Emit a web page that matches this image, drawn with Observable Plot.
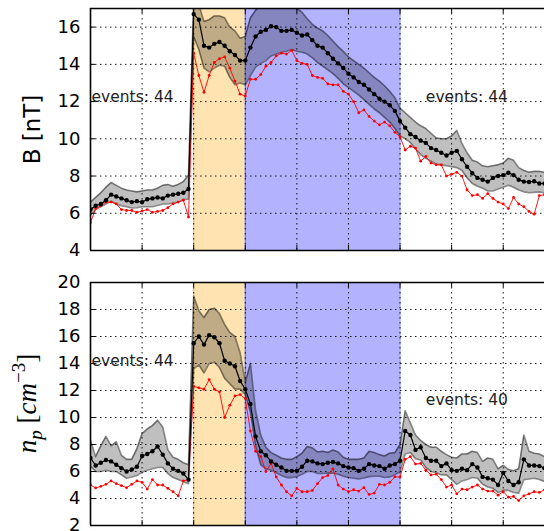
<!DOCTYPE html>
<html><head><meta charset="utf-8">
<script src="https://cdn.jsdelivr.net/npm/d3@7"></script>
<script src="https://cdn.jsdelivr.net/npm/@observablehq/plot@0.6"></script>
<style>
html,body{margin:0;padding:0;background:#fff;}
#chart{width:544px;height:531px;overflow:hidden;background:#fff;}
#chart svg{display:block;}
</style></head><body><div id="chart"></div>
<script>
// sample times (normalized epoch units), 0.1 step
const time = d3.range(89).map(i => i / 10);

// ---- magnetic field B [nT] ----
const B_mean = [6.2,6.4,6.5,6.7,7.0,6.9,6.8,6.7,6.6,6.65,6.6,6.75,6.8,6.85,6.8,6.95,7.0,7.05,7.1,7.3,
  16.7,16.4,15.0,14.9,15.1,15.2,15.0,14.7,14.5,14.2,
  14.2,14.9,15.5,15.75,15.85,16.05,16.0,15.8,15.8,15.85,15.7,15.55,15.6,15.3,15.0,14.9,14.6,14.3,14.05,13.8,13.5,13.3,13.05,12.9,12.65,12.4,12.15,12.0,11.8,11.5,
  10.95,10.6,10.25,10.1,9.9,9.78,9.5,9.4,9.25,9.1,9.25,9.35,8.9,8.5,8.15,7.9,7.8,7.7,7.9,8.0,8.05,8.18,8.05,7.8,7.7,7.68,7.72,7.6,7.6];
const B_hi = [6.6,6.85,7.1,7.4,7.65,7.5,7.35,7.25,7.2,7.15,7.2,7.25,7.25,7.35,7.5,7.55,7.45,7.55,7.7,8.05,
  17.5,17.2,16.3,16.4,16.6,16.6,16.5,16.0,15.8,15.4,
  15.5,16.5,16.9,17.2,17.4,17.5,17.5,17.4,17.2,17.05,17.0,16.8,16.45,16.15,15.95,15.8,15.55,15.25,14.95,14.7,14.4,14.2,14.0,13.8,13.55,13.3,13.1,12.85,12.55,12.2,
  11.65,11.4,11.15,10.9,10.7,10.55,10.3,10.05,10.0,10.0,10.15,10.45,9.75,9.25,8.85,8.75,8.55,8.5,8.55,8.6,8.7,8.95,8.85,8.45,8.3,8.2,8.25,8.25,8.2];
const B_lo = [5.9,6.2,6.35,6.5,6.65,6.5,6.4,6.35,6.28,6.3,6.35,6.35,6.35,6.42,6.5,6.5,6.55,6.6,6.75,6.75,
  15.5,14.8,13.8,13.6,13.8,13.95,13.9,13.3,12.9,13.0,
  12.9,13.4,13.85,14.05,14.2,14.45,14.55,14.65,14.7,14.8,14.7,14.65,14.55,14.35,14.1,13.9,13.7,13.5,13.25,12.95,12.75,12.55,12.35,12.1,11.85,11.6,11.4,11.15,10.9,10.55,
  10.15,10.0,9.8,9.45,9.15,8.95,8.8,8.65,8.6,8.55,8.5,8.45,8.3,7.9,7.6,7.45,7.35,7.2,7.2,7.3,7.4,7.5,7.4,7.25,7.15,7.1,7.12,7.15,7.1];
const B_median = [5.5,6.25,6.4,6.6,6.6,6.5,6.2,6.15,6.15,6.05,6.12,6.2,6.05,6.1,6.15,6.3,6.5,6.6,6.7,5.8,
  14.6,13.4,12.5,13.4,14.1,14.3,14.4,13.8,13.1,12.4,
  12.3,13.2,13.2,13.45,13.9,14.1,14.45,14.6,14.55,14.75,14.2,14.05,14.0,13.4,13.3,13.25,12.95,12.9,12.9,12.55,12.4,12.0,11.4,11.55,11.2,10.95,10.75,10.9,10.7,10.35,
  10.1,9.4,9.6,9.5,8.8,9.05,8.7,8.6,8.6,8.0,8.1,8.2,8.0,7.25,6.95,7.0,6.8,7.05,6.8,6.6,6.5,6.25,6.85,6.5,6.35,6.1,5.95,6.95,7.0];

// ---- proton density n_p [cm^-3] ----
const N_mean = [7.0,6.45,6.65,6.85,6.75,6.5,6.25,6.0,6.15,6.35,7.15,7.3,7.5,7.85,7.25,6.6,6.2,6.05,5.85,5.4,
  15.5,16.0,15.4,16.1,15.95,15.5,14.2,14.0,13.8,12.7,
  12.1,11.0,8.6,7.5,7.2,6.75,6.5,6.3,6.05,6.05,6.05,6.35,6.8,6.75,6.6,6.55,6.65,6.7,6.6,6.4,6.3,6.25,6.05,6.2,6.55,6.45,6.4,6.2,6.45,6.55,
  6.8,9.0,8.7,7.6,7.8,7.0,6.8,6.8,6.4,6.6,6.1,6.05,6.2,6.1,6.55,6.3,5.6,5.5,5.4,5.0,5.9,5.3,5.0,5.2,6.9,6.45,6.45,6.4,6.25];
const N_hi = [8.3,7.1,7.9,8.6,7.9,8.2,7.2,6.9,6.9,7.7,8.8,9.15,9.4,9.8,9.3,7.6,7.05,6.9,6.65,6.5,
  19.0,17.9,17.4,18.0,18.1,17.7,16.9,16.3,16.0,14.8,
  12.6,14.0,10.5,8.7,7.8,7.4,7.2,7.0,6.9,6.9,7.1,7.35,7.85,7.75,7.45,7.5,7.4,7.6,7.45,7.05,6.9,6.9,6.9,7.0,7.5,7.4,7.25,7.15,7.35,7.4,
  8.0,10.5,9.6,8.7,8.3,8.0,7.8,7.8,7.5,7.25,7.05,7.0,7.3,7.3,7.5,7.4,6.75,7.0,6.9,6.2,6.45,6.15,6.05,6.2,8.7,7.5,7.35,7.3,7.1];
const N_lo = [6.4,6.0,6.0,6.1,6.0,6.0,5.75,5.5,5.6,5.7,5.95,6.1,6.2,6.3,6.3,5.85,5.55,5.4,5.25,5.1,
  13.6,13.9,13.3,14.0,14.1,13.7,12.9,12.5,12.1,12.1,
  11.7,10.4,7.9,6.5,6.2,6.1,5.9,5.7,5.55,5.55,5.62,5.8,6.0,6.0,5.85,5.85,5.9,5.88,5.8,5.65,5.55,5.5,5.45,5.52,5.62,5.65,5.65,5.55,5.6,5.75,
  6.0,7.3,7.4,6.95,6.85,6.3,6.0,5.9,5.75,5.75,5.4,5.05,5.3,5.4,5.55,5.5,5.05,4.85,4.75,4.45,4.6,4.6,4.45,4.4,5.4,5.45,5.5,5.4,5.25];
const N_median = [5.0,4.78,4.9,5.05,5.3,5.1,4.95,4.8,5.05,5.3,5.2,4.7,5.4,5.0,5.0,4.75,4.5,4.2,5.3,5.4,
  12.3,12.2,12.1,12.8,12.1,11.9,10.0,10.9,11.6,11.7,
  11.4,9.0,7.5,7.1,6.0,6.6,5.6,5.0,4.5,4.2,4.75,4.5,4.5,4.6,5.1,5.55,5.7,6.2,5.0,4.7,4.5,4.65,4.55,4.8,4.3,4.4,5.05,5.0,5.2,5.6,
  5.6,6.9,7.1,6.55,6.6,6.1,5.75,5.8,5.4,4.85,5.0,4.35,4.7,4.65,4.85,5.0,4.7,4.55,4.55,4.25,4.5,4.1,4.15,3.85,4.2,4.35,4.5,4.45,4.65];

// ---- axes, phases, labels ----
const xTicks = [0,1,2,3,4,5,6,7,8];
const B_ticks = [4,6,8,10,12,14,16];
const N_ticks = [2,4,6,8,10,12,14,16,18,20];
const phaseStart = [2, 3];
const phaseEnd = [3, 6];
const phaseColor = ["orange", "blue"];
const B_events = ["events: 44", "events: 44"];
const N_events = ["events: 44", "events: 40"];
const B_eventT = [0.02, 6.5], B_eventV = [11.97, 11.97];
const N_eventT = [0.02, 6.5], N_eventV = [13.85, 10.89];

function panel(o) {
  const rows = time.map((t, i) => ({t, mean: o.mean[i], lo: o.lo[i], hi: o.hi[i], med: o.med[i]}));
  const phases = phaseStart.map((s, i) => ({s, e: phaseEnd[i], c: phaseColor[i]}));
  const notes = o.events.map((label, i) => ({label, t: o.et[i], v: o.ev[i]}));
  const plotH = o.height - o.mt - o.mb;
  const plotW = 544 - 90;
  const marks = [
    Plot.rect([phases[0]], {x1: "s", x2: "e", fill: "orange", fillOpacity: 0.3}),
    Plot.rect([phases[1]], {x1: "s", x2: "e", fill: "blue", fillOpacity: 0.3}),
    Plot.ruleX([phaseStart[0]], {stroke: "orange", strokeOpacity: 0.7, strokeWidth: 1}),
    Plot.ruleX([phaseStart[1], phaseEnd[1]], {stroke: "blue", strokeOpacity: 0.45, strokeWidth: 1}),
    Plot.areaY(rows, {x: "t", y1: "lo", y2: "hi", fill: "black", fillOpacity: 0.25, clip: true}),
    Plot.lineY(rows, {x: "t", y: "lo", stroke: "black", strokeOpacity: 0.45, strokeWidth: 1.6, clip: true}),
    Plot.lineY(rows, {x: "t", y: "hi", stroke: "black", strokeOpacity: 0.45, strokeWidth: 1.6, clip: true}),
    Plot.ruleX(xTicks, {x: d => d, stroke: "black", strokeWidth: 0.9, strokeDasharray: "1.5,3.5"}),
    Plot.ruleY(o.ticks, {y: d => d, stroke: "black", strokeWidth: 0.9, strokeDasharray: "1.5,3.5"}),
    Plot.lineY(rows, {x: "t", y: "med", stroke: "red", strokeWidth: 0.9, clip: true}),
    Plot.dot(rows, {x: "t", y: "med", r: 1.4, fill: "red", stroke: "none", clip: true}),
    Plot.lineY(rows, {x: "t", y: "mean", stroke: "black", strokeWidth: 1.2, clip: true}),
    Plot.dot(rows, {x: "t", y: "mean", r: 2.2, fill: "black", stroke: "none", clip: true}),
    Plot.tickX(xTicks, {x: d => d, insetBottom: plotH - 5, stroke: "black", strokeWidth: 1}),
    Plot.tickX(xTicks, {x: d => d, insetTop: plotH - 5, stroke: "black", strokeWidth: 1}),
    Plot.tickY(o.ticks, {y: d => d, insetRight: plotW - 5, stroke: "black", strokeWidth: 1}),
    Plot.ruleX([0], {stroke: "black", strokeWidth: 1.6}),
    Plot.ruleY(o.domain, {stroke: "black", strokeWidth: 1.6}),
    Plot.text(notes, {x: "t", y: "v", text: "label", textAnchor: "start", lineAnchor: "bottom",
      fontSize: 15.5, fill: "#222", fontFamily: "'DejaVu Sans', sans-serif"})
  ];
  if (o.label) marks.push(Plot.text([o.label], {text: d => d, frameAnchor: "left", textAnchor: "middle",
      rotate: -90, dx: -58, fontSize: 23, fill: "black", fontFamily: "'DejaVu Sans', sans-serif"}));
  return Plot.plot({
    width: 544, height: o.height,
    marginLeft: 90, marginRight: 0, marginTop: o.mt, marginBottom: o.mb,
    style: {fontFamily: "'DejaVu Sans', sans-serif", fontSize: "18px", color: "#000", background: "transparent", overflow: "visible"},
    x: {domain: [0, 8.8], axis: null},
    y: {domain: o.domain, ticks: o.ticks, tickSize: 0, tickPadding: 10, label: null, tickFormat: d => String(d)},
    marks
  });
}

const topPanel = panel({mean: B_mean, lo: B_lo, hi: B_hi, med: B_median, domain: [4, 17], ticks: B_ticks,
  events: B_events, et: B_eventT, ev: B_eventV, height: 265, mt: 8, mb: 15, label: "B [nT]"});
const bottomPanel = panel({mean: N_mean, lo: N_lo, hi: N_hi, med: N_median, domain: [2, 20], ticks: N_ticks,
  events: N_events, et: N_eventT, ev: N_eventV, height: 266, mt: 17, mb: 6, label: null});

const chart = document.getElementById("chart");
chart.appendChild(topPanel);
chart.appendChild(bottomPanel);

// y label with sub/superscript for density panel
const lab = d3.select(bottomPanel).append("text")
  .attr("transform", "translate(36,138.5) rotate(-90)")
  .attr("text-anchor", "middle")
  .style("font-family", "'Liberation Serif', 'DejaVu Serif', serif")
  .style("font-size", "27px")
  .attr("fill", "black");
lab.append("tspan").style("font-style", "italic").text("n");
lab.append("tspan").style("font-style", "italic").style("font-size", "19px").attr("dy", 6).text("p");
lab.append("tspan").attr("dy", -6).text("\u00a0[");
lab.append("tspan").style("font-style", "italic").text("cm");
lab.append("tspan").style("font-size", "19px").attr("dy", -11).text("\u22123");
lab.append("tspan").attr("dy", 11).text("]");
</script></body></html>
